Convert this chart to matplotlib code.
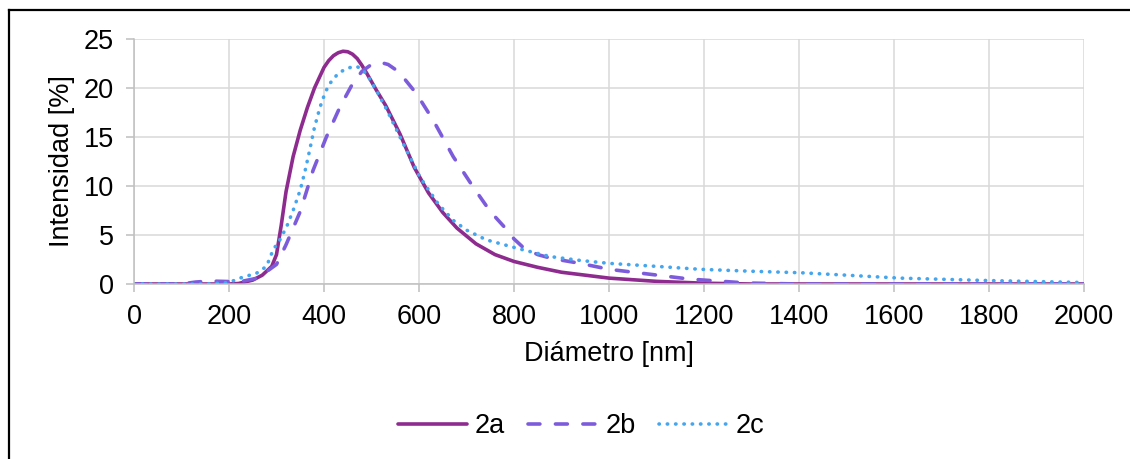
import numpy as np
import matplotlib
matplotlib.use("Agg")
import matplotlib.pyplot as plt
from matplotlib.lines import Line2D

plt.rcParams['font.family'] = ['Liberation Sans', 'DejaVu Sans']

# Diameter (nm) / intensity (%)
x_2a = [0, 100, 200, 220, 250, 270, 290, 300, 310, 320, 335, 350, 365, 380, 400, 410, 420,
        430, 440, 450, 460, 470, 480, 490, 510, 530, 560, 590, 620, 650, 680, 720, 760, 800,
        850, 900, 1000, 1100, 1200, 1300, 2000]
y_2a = [0, 0, 0, 0.05, 0.4, 0.9, 1.8, 3.0, 6.0, 9.4, 13.0, 15.7, 18.0, 20.0, 22.1, 22.8, 23.3,
        23.6, 23.75, 23.7, 23.45, 23.0, 22.3, 21.5, 19.8, 18.2, 15.3, 11.9, 9.3, 7.3, 5.7, 4.1,
        3.0, 2.3, 1.7, 1.2, 0.6, 0.27, 0.08, 0, 0]

x_2b = [0, 100, 130, 160, 200, 230, 260, 280, 300, 320, 350, 377, 405, 434, 462, 480, 497,
        510, 520, 535, 550, 570, 595, 630, 672, 714, 750, 780, 800, 820, 850, 880, 940, 1000,
        1060, 1170, 1290, 1400, 2000]
y_2b = [0, 0, 0.2, 0.3, 0.25, 0.3, 0.6, 1.3, 2.0, 4.0, 7.4, 11.6, 15.0, 18.1, 20.6, 21.7, 22.3,
        22.55, 22.6, 22.4, 21.9, 20.9, 19.4, 16.7, 13.0, 9.9, 7.4, 5.8, 4.6, 3.7, 3.0, 2.6, 2.1,
        1.5, 1.15, 0.5, 0.1, 0, 0]

x_2c = [0, 150, 200, 223, 258, 279, 293, 307, 321, 335, 350, 360, 370, 380, 392, 403, 413,
        430, 448, 460, 469, 480, 490, 510, 532, 560, 602, 640, 672, 700, 742, 780, 810, 876,
        940, 1002, 1100, 1192, 1300, 1403, 1500, 1613, 1800, 2000]
y_2c = [0, 0, 0.15, 0.6, 1.1, 1.8, 3.5, 4.5, 5.8, 7.5, 9.6, 11.5, 13.7, 16.0, 18.1, 19.6, 20.5,
        21.5, 22.0, 22.15, 22.2, 21.9, 21.4, 19.8, 17.8, 15.0, 10.9, 8.2, 6.5, 5.5, 4.5, 4.0,
        3.6, 2.8, 2.4, 2.1, 1.8, 1.5, 1.3, 1.15, 0.9, 0.6, 0.35, 0.15]

fig = plt.figure(figsize=(11.3, 4.59), dpi=100)
ax = fig.add_axes([134 / 1130, 1 - 284 / 459, 950 / 1130, 245 / 459])

lw = 2.6
ax.plot(x_2a, y_2a, color='#8E2B8E', linewidth=lw, label='2a',
        solid_capstyle='round', solid_joinstyle='round')
ax.plot(x_2b, y_2b, color='#7C5CDB', linewidth=lw, label='2b',
        linestyle=(0, (3.3, 4.3)), dash_capstyle='round')
ax.plot(x_2c, y_2c, color='#45A6EE', linewidth=lw, label='2c',
        linestyle=(0, (0.1, 2.2)), dash_capstyle='round')

ax.set_xlim(0, 2000)
ax.set_ylim(0, 25)
ax.set_xticks(np.arange(0, 2001, 200))
ax.set_yticks(np.arange(0, 26, 5))
ax.grid(True, color='#D9D9D9', linewidth=1.1)
ax.set_axisbelow(True)
for s in ['top', 'right']:
    ax.spines[s].set_visible(False)
for s in ['left', 'bottom']:
    ax.spines[s].set_color('#BFBFBF')
    ax.spines[s].set_linewidth(1.1)
ax.tick_params(axis='both', colors='#BFBFBF', length=5.5, width=1.1, labelsize=19.5,
               labelcolor='black')
ax.tick_params(axis='y', pad=9)
ax.tick_params(axis='x', pad=9)

ax.set_xlabel('Diámetro [nm]', fontsize=19.5, labelpad=8)
ax.set_ylabel('Intensidad [%]', fontsize=19.5, labelpad=6)

fig.legend(loc='center', bbox_to_anchor=(581 / 1130, 1 - 426 / 459), ncol=3, frameon=False,
           fontsize=19.5, handlelength=2.55, handletextpad=0.3, columnspacing=0.85)

# outer frame (left and top edges only)
fig.add_artist(Line2D([9 / 1130, 9 / 1130], [0, 1 - 10 / 459], transform=fig.transFigure,
                      color='black', linewidth=1.6))
fig.add_artist(Line2D([9 / 1130, 1], [1 - 10 / 459, 1 - 10 / 459], transform=fig.transFigure,
                      color='black', linewidth=1.6))

fig.savefig('out.png', dpi=100)
